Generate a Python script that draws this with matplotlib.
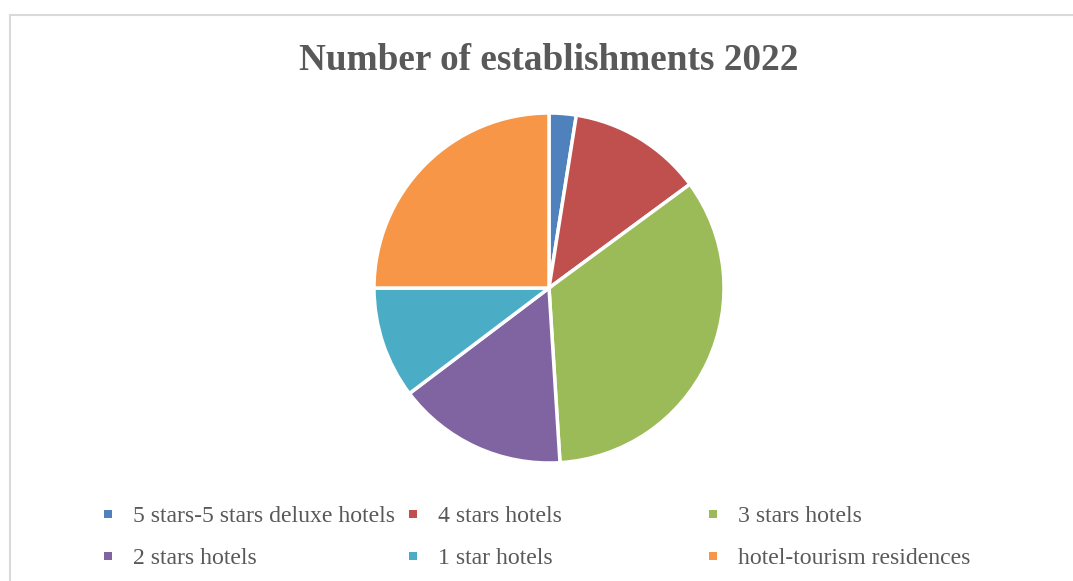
import matplotlib.pyplot as plt
from matplotlib.patches import Rectangle

plt.rcParams['font.family'] = ['Liberation Serif', 'DejaVu Serif']

# Share of establishments by category (percent of total)
categories = [
    "5 stars-5 stars deluxe hotels",
    "4 stars hotels",
    "3 stars hotels",
    "2 stars hotels",
    "1 star hotels",
    "hotel-tourism residences",
]
shares = [2.5, 12.4, 34.1, 15.7, 10.3, 25.0]
colors = ["#4F81BD", "#C0504D", "#9BBB59", "#8064A2", "#4BACC6", "#F79646"]

W, H = 1073, 581
fig = plt.figure(figsize=(W / 100, H / 100), dpi=100)

# light chart-area frame: only the top and left edges fall inside the canvas
fig.add_artist(plt.Line2D([9.5 / W, 9.5 / W], [0, 1 - 14.5 / H],
                          transform=fig.transFigure, color="#D9D9D9", linewidth=1.5))
fig.add_artist(plt.Line2D([9.5 / W, 1], [1 - 14.5 / H, 1 - 14.5 / H],
                          transform=fig.transFigure, color="#D9D9D9", linewidth=1.5))

fig.text(549 / W, 1 - 60 / H, "Number of establishments 2022",
         ha="center", va="center", fontsize=26.8, fontweight="bold",
         color="#595959")

# pie: centre (549, 288) px, radius 175 px
r = 175
ax = fig.add_axes([(549 - r) / W, (H - 288 - r) / H, 2 * r / W, 2 * r / H])
ax.pie(shares, colors=colors, startangle=90, counterclock=False,
       radius=1, wedgeprops=dict(edgecolor="white", linewidth=2.5))
ax.set_xlim(-1, 1)
ax.set_ylim(-1, 1)
ax.set_aspect("equal")
ax.axis("off")

# legend laid out in three fixed-width columns, two rows
col_x = [108, 413, 713]
row_y = [514, 556]
for i, (lab, c) in enumerate(zip(categories, colors)):
    x = col_x[i % 3]
    y = row_y[i // 3]
    fig.patches.append(Rectangle(((x - 4) / W, 1 - (y + 4) / H), 8 / W, 8 / H,
                                 transform=fig.transFigure, facecolor=c,
                                 edgecolor="none"))
    fig.text((x + 25) / W, 1 - (y + 3) / H, lab, ha="left", va="center",
             fontsize=17.1, color="#595959")

fig.savefig("out.png", dpi=100, facecolor="white")
